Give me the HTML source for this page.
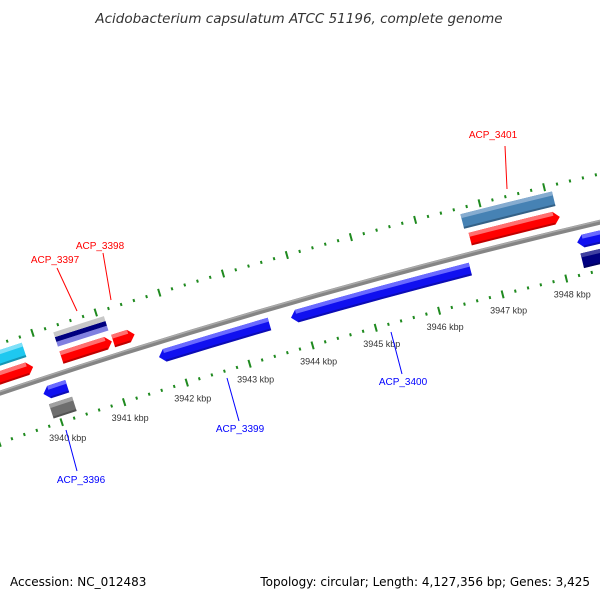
<!DOCTYPE html>
<html><head><meta charset="utf-8"><style>
body{margin:0;background:#fff}
svg text{font-family:"Liberation Sans",sans-serif}
</style></head><body>
<svg id="chart" width="600" height="600" viewBox="0 0 600 600" xmlns="http://www.w3.org/2000/svg">
<rect width="600" height="600" fill="#fff"/>
<text x="299" y="23" text-anchor="middle" font-size="13.5" font-style="italic" fill="#333" style="font-family:'DejaVu Sans',sans-serif">Acidobacterium capsulatum ATCC 51196, complete genome</text>
<g id="map"></g>
<g font-size="10">
<line x1="505" y1="146" x2="507" y2="189" stroke="#f00"/>
<text x="493" y="138" text-anchor="middle" fill="#f00">ACP_3401</text>
<line x1="57" y1="268" x2="77" y2="311" stroke="#f00"/>
<text x="55" y="263" text-anchor="middle" fill="#f00">ACP_3397</text>
<line x1="103" y1="253" x2="111" y2="300" stroke="#f00"/>
<text x="100" y="249" text-anchor="middle" fill="#f00">ACP_3398</text>
<line x1="227" y1="378" x2="239" y2="421" stroke="#00f"/>
<text x="240" y="432" text-anchor="middle" fill="#00f">ACP_3399</text>
<line x1="391" y1="332" x2="402" y2="374" stroke="#00f"/>
<text x="403" y="385" text-anchor="middle" fill="#00f">ACP_3400</text>
<line x1="66" y1="430" x2="77" y2="471" stroke="#00f"/>
<text x="81" y="483" text-anchor="middle" fill="#00f">ACP_3396</text>
</g>
<text x="10" y="586" font-size="12" fill="#000" style="font-family:'DejaVu Sans',sans-serif">Accession: NC_012483</text>
<text x="590" y="586" text-anchor="end" font-size="12" fill="#000" style="font-family:'DejaVu Sans',sans-serif">Topology: circular; Length: 4,127,356 bp; Genes: 3,425</text>
</svg>
<script>
const geneStarts = [3939.0, 3939.0, 3939.87, 3939.9, 3940.3, 3940.3, 3941.12, 3941.71, 3943.8, 3946.68, 3946.73, 3948.29, 3948.3];
const geneEnds   = [3939.80, 3939.85, 3940.25, 3940.27, 3941.1, 3941.1, 3941.46, 3943.46, 3946.62, 3948.1, 3948.125, 3949.8, 3949.8];
const geneStrand = [0, 1, -1, 0, 0, 1, 1, -1, -1, 0, 1, -1, 0];
const geneTrack  = [2, 1, -1, -2, 2, 1, 1, -1, -1, 2, 1, -1, -2];
const geneKind   = ['cyan','red','blue','gray','stripe','red','red','blue','blue','steel','red','blue','navy'];
const tickStart = 3937, tickEnd = 3950, tickStep = 0.2;
const kbpLabels = [3940, 3941, 3942, 3943, 3944, 3945, 3946, 3947, 3948];

const CX = 2150, CY = 6800, R0 = 6758, PHI0 = -108.13, DEG_PER_KBP = 0.56;
const palette = {cyan:['#1ec8f0','#7fe0f8'], red:['#ff0000','#ff7070'], blue:['#1010f0','#6a6aff'], gray:['#6e6e6e','#a0a0a0'], steel:['#4682b4','#86acd0'], navy:['#000080','#4040a0']};
const NS = 'http://www.w3.org/2000/svg';
const g = document.getElementById('map');
function ang(k){return (PHI0 + (k-3940)*DEG_PER_KBP)*Math.PI/180;}
function pt(k, dr){const a=ang(k), r=R0+dr; return [CX+r*Math.cos(a), CY+r*Math.sin(a)];}
function P(p){return p[0].toFixed(2)+' '+p[1].toFixed(2);}
function barPath(k1,k2,a,b,dir){
  const ah = 0.09, m=(a+b)/2;
  let s1=k1, s2=k2;
  if(dir===1) s2=k2-ah; if(dir===-1) s1=k1+ah;
  let d='M'+P(pt(s1,b))+' A'+(R0+b)+' '+(R0+b)+' 0 0 1 '+P(pt(s2,b));
  if(dir===1) d+=' L'+P(pt(k2,m));
  d+=' L'+P(pt(s2,a))+' A'+(R0+a)+' '+(R0+a)+' 0 0 0 '+P(pt(s1,a));
  if(dir===-1) d+=' L'+P(pt(k1,m));
  return d+' Z';
}
function mk(tag, attrs){const e=document.createElementNS(NS,tag); for(const k in attrs) e.setAttribute(k,attrs[k]); g.appendChild(e); return e;}
function trackRange(t){ if(t===1) return [8,21]; if(t===2) return [26,41]; if(t===-1) return [-21,-8]; return [-41,-26]; }

const nT = Math.round((tickEnd-tickStart)/tickStep);
for(let i=0;i<=nT;i++){
  const k = tickStart + i*tickStep;
  const major = Math.abs(k-Math.round(k))<1e-6;
  [47,-47].forEach(function(dr){
    const len = major?4:1.5;
    const p1=pt(k,dr-len), p2=pt(k,dr+len);
    const t = mk('line',{x1:p1[0],y1:p1[1],x2:p2[0],y2:p2[1],stroke:'#1f8a1f','stroke-width':2});
    
    
  });
}
const b1=pt(3936,0), b2=pt(3951,0);
const bb = mk('path',{d:'M'+P(b1)+' A'+R0+' '+R0+' 0 0 1 '+P(b2),fill:'none',stroke:'#858585','stroke-width':5});


const bh1=pt(3936,1.5), bh2=pt(3951,1.5);
const bbh = mk('path',{d:'M'+P(bh1)+' A'+(R0+1.5)+' '+(R0+1.5)+' 0 0 1 '+P(bh2),fill:'none',stroke:'#aaaaaa','stroke-width':1.5});



for(let i=0;i<geneStarts.length;i++){
  const r = trackRange(geneTrack[i]);
  const kind = geneKind[i];
  if(kind==='stripe'){
    const bands=[[26,31,'#8080e0'],[31,36,'#000080'],[36,41,'#c8c8c8']];
    bands.forEach(function(bd){
      const e = mk('path',{d:barPath(geneStarts[i],geneEnds[i],bd[0],bd[1],0),fill:bd[2]});
      
      
    });
    continue;
  }
  const col = palette[kind];
  const e = mk('path',{d:barPath(geneStarts[i],geneEnds[i],r[0],r[1],geneStrand[i]),fill:col[0]});
  
  
  const hs = geneStrand[i]===-1?geneStarts[i]+0.09:geneStarts[i];
  const he = geneStrand[i]===1?geneEnds[i]-0.09:geneEnds[i];
  const h = mk('path',{d:barPath(hs,he,r[1]-4,r[1],0),fill:col[1]});
  
  
  const sh = mk('path',{d:barPath(hs,he,r[0],r[0]+2,0),fill:'#000','fill-opacity':0.25});
  
  
}
kbpLabels.forEach(function(k){
  const p = pt(k,-47);
  const t = mk('text',{x:p[0]+6,y:p[1]+19,'text-anchor':'middle','font-size':'9',fill:'#333'});
  t.textContent = k+' kbp';
  
  
});
</script>
</body></html>
